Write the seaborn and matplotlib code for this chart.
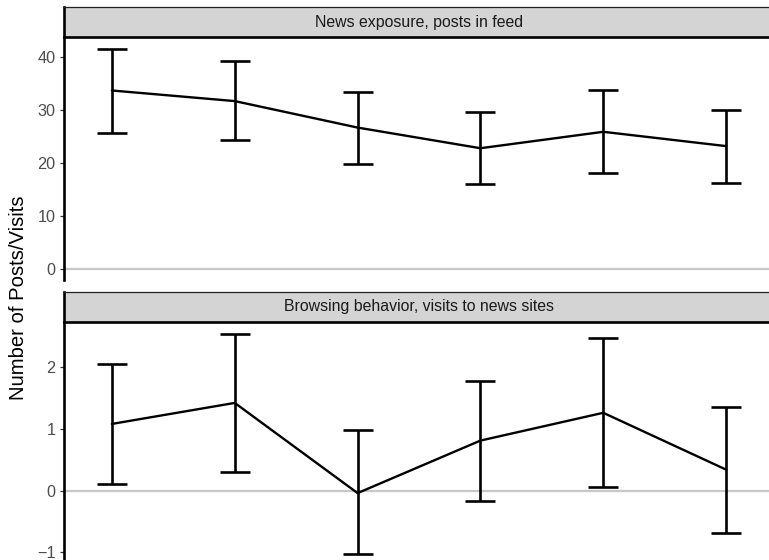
import numpy as np
import pandas as pd
import seaborn as sns
import matplotlib
matplotlib.use("Agg")
import matplotlib.pyplot as plt

# Survey waves (x positions) and the two outcome panels
waves = [1, 2, 3, 4, 5, 6]
panels = ["News exposure, posts in feed", "Browsing behavior, visits to news sites"]

# Means with lower / upper bounds of the confidence intervals
feed_mean = [33.7, 31.7, 26.7, 22.8, 25.9, 23.2]
feed_lo = [25.7, 24.3, 19.8, 16.0, 18.1, 16.3]
feed_hi = [41.6, 39.2, 33.4, 29.6, 33.8, 30.1]

visit_mean = [1.08, 1.42, -0.04, 0.81, 1.26, 0.34]
visit_lo = [0.10, 0.30, -1.03, -0.17, 0.06, -0.69]
visit_hi = [2.05, 2.54, 0.98, 1.78, 2.47, 1.36]

df = pd.concat([
    pd.DataFrame({"panel": panels[0], "wave": waves, "mean": feed_mean,
                  "lo": feed_lo, "hi": feed_hi}),
    pd.DataFrame({"panel": panels[1], "wave": waves, "mean": visit_mean,
                  "lo": visit_lo, "hi": visit_hi}),
], ignore_index=True)

sns.set_theme(style="white")
plt.rcParams["font.family"] = ["Liberation Sans", "DejaVu Sans"]

W, H = 769, 560
fig = plt.figure(figsize=(W / 100, H / 100), dpi=100)


def frac(left, top, right, bottom):
    return [left / W, 1 - bottom / H, (right - left) / W, (bottom - top) / H]


layout = [
    # (panel box, strip box, ylim, yticks)
    ((64, 37, 774, 280), (64, 7, 774, 37), (-2.08, 43.8), [0, 10, 20, 30, 40]),
    ((64, 322, 774, 566.6), (64, 292, 774, 322), (-1.23, 2.73), [-1, 0, 1, 2]),
]

for name, (pbox, sbox, ylim, yticks) in zip(panels, layout):
    ax = fig.add_axes(frac(*pbox))
    sub = df[df["panel"] == name]
    ax.axhline(0, color="#c8c8c8", lw=1.6, zorder=1)
    ax.errorbar(sub["wave"], sub["mean"],
                yerr=[sub["mean"] - sub["lo"], sub["hi"] - sub["mean"]],
                fmt="none", ecolor="black", elinewidth=1.9, capsize=11,
                capthick=1.9, zorder=3)
    sns.lineplot(data=sub, x="wave", y="mean", color="black", lw=1.7,
                 ax=ax, zorder=4)
    ax.set_xlim(0.61, 6.39)
    ax.set_ylim(*ylim)
    ax.set_yticks(yticks)
    ax.set_yticklabels(["\u22121" if t == -1 else str(t) for t in yticks])
    ax.set_xticks([])
    ax.set_xlabel("")
    ax.set_ylabel("")
    for s in ["top", "right", "bottom"]:
        ax.spines[s].set_visible(False)
    ax.spines["left"].set_color("black")
    ax.spines["left"].set_linewidth(1.9)
    ax.tick_params(axis="y", left=True, length=3.2, width=0.9,
                   color="#333333", labelcolor="#4d4d4d", labelsize=11.7,
                   pad=3)
    ax.set_facecolor("white")

    sax = fig.add_axes(frac(*sbox))
    sax.set_facecolor("#d4d4d4")
    sax.set_xticks([])
    sax.set_yticks([])
    for s in sax.spines.values():
        s.set_color("#222222")
        s.set_linewidth(0.9)
    sax.spines["bottom"].set_color("black")
    sax.spines["bottom"].set_linewidth(1.9)
    sax.spines["left"].set_color("black")
    sax.spines["left"].set_linewidth(1.9)
    sax.text(0.5, 0.5, name, ha="center", va="center", fontsize=11.4,
             color="#1a1a1a", transform=sax.transAxes)

fig.text(19 / W, 1 - 297.5 / H, "Number of Posts/Visits", rotation=90,
         ha="center", va="center", fontsize=14.6, color="black")

fig.savefig("out.png", dpi=100)
